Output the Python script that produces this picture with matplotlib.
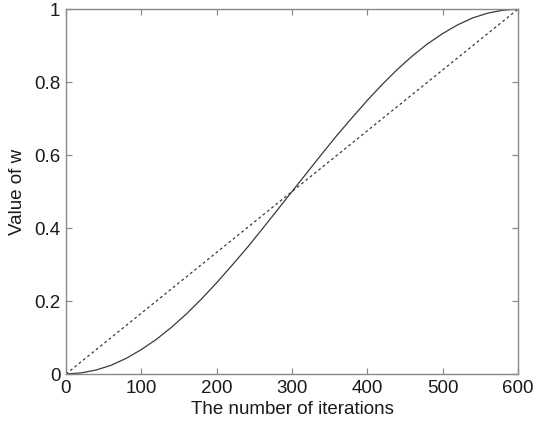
import matplotlib
matplotlib.use("Agg")
import matplotlib.pyplot as plt

# Weight schedule sampled every 20 iterations
iterations = [0, 20, 40, 60, 80, 100, 120, 140, 160, 180, 200, 220, 240, 260,
              280, 300, 320, 340, 360, 380, 400, 420, 440, 460, 480, 500, 520,
              540, 560, 580, 600]
w_curve = [0.0, 0.003, 0.011, 0.024, 0.043, 0.067, 0.095, 0.128, 0.165,
           0.206, 0.250, 0.297, 0.345, 0.396, 0.448, 0.500, 0.552, 0.604,
           0.655, 0.703, 0.750, 0.794, 0.835, 0.872, 0.905, 0.933, 0.957,
           0.976, 0.989, 0.997, 1.0]

# Linear reference schedule
linear_x = [0, 600]
linear_w = [0.0, 1.0]

x_ticks = [0, 100, 200, 300, 400, 500, 600]
y_ticks = [0, 0.2, 0.4, 0.6, 0.8, 1.0]
y_tick_labels = ["0", "0.2", "0.4", "0.6", "0.8", "1"]

plt.rcParams["font.family"] = ["Liberation Sans", "DejaVu Sans"]

fig = plt.figure(figsize=(5.36, 4.34), dpi=100)
ax = fig.add_axes([0.1231, 0.1382, 0.8433, 0.8408])

ax.plot(iterations, w_curve, color="#3a3a3a", linewidth=0.9,
        solid_joinstyle="round")
ax.plot(linear_x, linear_w, color="#3a3a3a", linewidth=0.9,
        linestyle=(0, (2.2, 2.2)))

ax.set_xlim(0, 600)
ax.set_ylim(0, 1)
ax.set_xticks(x_ticks)
ax.set_yticks(y_ticks)
ax.set_yticklabels(y_tick_labels)

axis_gray = "#8a8a8a"
for spine in ax.spines.values():
    spine.set_color(axis_gray)
    spine.set_linewidth(1.0)
ax.tick_params(direction="in", top=True, right=True, length=4,
               width=0.9, color=axis_gray, labelsize=13.5, labelcolor="#1a1a1a",
               pad=4)

ax.set_xlabel("The number of iterations", fontsize=13.5, color="#1a1a1a",
              labelpad=3)
ax.set_ylabel("Value of w", fontsize=13.5, color="#1a1a1a", labelpad=6)

fig.savefig("out.png", dpi=100)
